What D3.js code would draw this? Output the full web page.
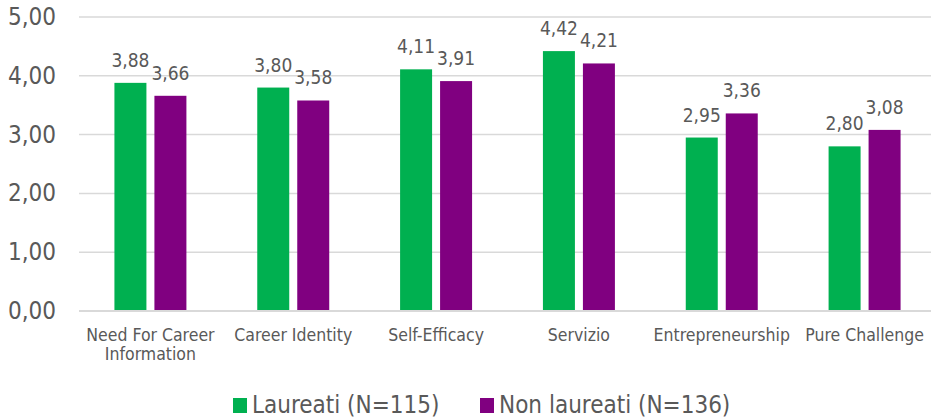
<!DOCTYPE html>
<html>
<head>
<meta charset="utf-8">
<script src="https://cdn.jsdelivr.net/npm/d3@7"></script>
<style>
  html, body { margin: 0; padding: 0; background: #fff; }
  svg { display: block; }
  text { font-family: "DejaVu Sans Condensed", "DejaVu Sans", sans-serif; fill: #595959; }
</style>
</head>
<body>
<svg id="chart" width="931" height="420"></svg>
<script>
// Mean scores by dimension, graduates vs non-graduates
const categories = [
  ["Need For Career", "Information"],
  ["Career Identity"],
  ["Self-Efficacy"],
  ["Servizio"],
  ["Entrepreneurship"],
  ["Pure Challenge"]
];
const seriesNames = ["Laureati (N=115)", "Non laureati (N=136)"];
const laureati = [3.88, 3.80, 4.11, 4.42, 2.95, 2.80];
const nonLaureati = [3.66, 3.58, 3.91, 4.21, 3.36, 3.08];
const yTicks = [0, 1, 2, 3, 4, 5];
const colors = ["#00B050", "#800080"];

const fmt = v => d3.format(".2f")(v).replace(".", ",");

const svg = d3.select("#chart");
const plotLeft = 79, plotRight = 936, plotTop = 17, plotBottom = 311;

const x = d3.scaleBand()
  .domain(d3.range(categories.length))
  .range([plotLeft, plotRight])
  .paddingInner(0)
  .paddingOuter(0);

const inner = d3.scaleBand()
  .domain([0, 1])
  .range([x.bandwidth() * 0.248, x.bandwidth() * 0.752])
  .paddingInner(0.2);

const y = d3.scaleLinear().domain([0, 5]).range([plotBottom, plotTop]);

// gridlines
svg.append("g")
  .selectAll("line")
  .data(yTicks.filter(d => d > 0))
  .join("line")
  .attr("x1", plotLeft).attr("x2", 931)
  .attr("y1", d => y(d)).attr("y2", d => y(d))
  .attr("stroke", "#d9d9d9").attr("stroke-width", 1.5);

// y tick labels
svg.append("g")
  .selectAll("text")
  .data(yTicks)
  .join("text")
  .attr("x", 56)
  .attr("y", d => y(d) + 8)
  .attr("text-anchor", "end")
  .attr("font-size", 24)
  .text(d => fmt(d));

const series = [laureati, nonLaureati];

series.forEach((vals, s) => {
  const g = svg.append("g");
  g.selectAll("rect")
    .data(vals)
    .join("rect")
    .attr("x", (d, i) => x(i) + inner(s))
    .attr("width", inner.bandwidth())
    .attr("y", d => y(d))
    .attr("height", d => y(0) - y(d))
    .attr("fill", colors[s]);
  g.selectAll("text")
    .data(vals)
    .join("text")
    .attr("x", (d, i) => x(i) + inner(s) + inner.bandwidth() / 2)
    .attr("y", d => y(d) - 16)
    .attr("text-anchor", "middle")
    .attr("font-size", 19)
    .text(d => fmt(d));
});

// baseline axis
svg.append("line")
  .attr("x1", plotLeft).attr("x2", 931)
  .attr("y1", y(0)).attr("y2", y(0))
  .attr("stroke", "#d9d9d9").attr("stroke-width", 2);

// category labels
const cat = svg.append("g")
  .selectAll("text")
  .data(categories)
  .join("text")
  .attr("text-anchor", "middle")
  .attr("font-size", 17.5)
  .attr("transform", (d, i) => `translate(${x(i) + x.bandwidth() / 2},341)`);
cat.selectAll("tspan")
  .data(d => d)
  .join("tspan")
  .attr("x", 0)
  .attr("dy", (d, i) => i === 0 ? 0 : 19)
  .text(d => d);

// legend
const legend = svg.append("g");
const legendX = [233, 480];
seriesNames.forEach((name, s) => {
  legend.append("rect")
    .attr("x", legendX[s]).attr("y", 398)
    .attr("width", 14).attr("height", 15)
    .attr("fill", colors[s]);
  legend.append("text")
    .attr("x", legendX[s] + 19).attr("y", 413)
    .attr("font-size", 24)
    .text(name);
});
</script>
</body>
</html>
